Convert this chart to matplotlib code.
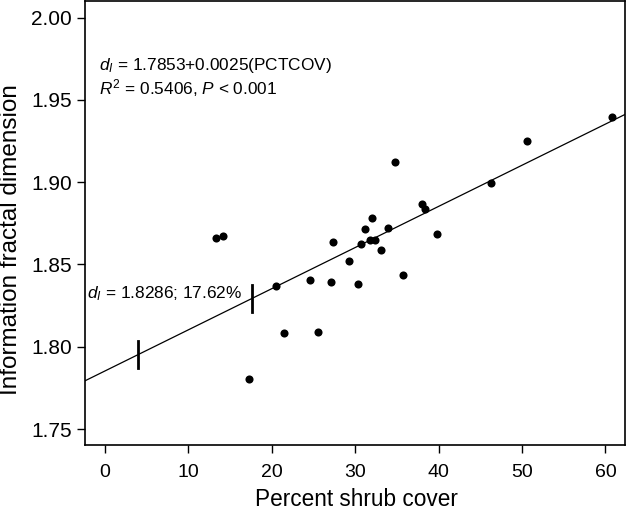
import matplotlib.pyplot as plt
import numpy as np

plt.rcParams['font.family'] = ['Liberation Sans', 'DejaVu Sans']
plt.rcParams['mathtext.fontset'] = 'custom'
plt.rcParams['mathtext.rm'] = 'Liberation Sans'
plt.rcParams['mathtext.it'] = 'Liberation Sans:italic'

# percent shrub cover vs information fractal dimension
shrub = [13.3, 14.1, 17.3, 20.5, 21.5, 24.6, 25.5, 27.1, 27.3, 29.2, 30.3, 30.7, 31.2,
         31.8, 32.0, 32.4, 33.1, 33.9, 34.8, 35.7, 38.0, 38.4, 39.8, 46.3, 50.6, 60.8]
dim = [1.8659, 1.8671, 1.7806, 1.8371, 1.8085, 1.8408, 1.8091, 1.8394, 1.8636, 1.8521,
       1.8380, 1.8627, 1.8718, 1.8647, 1.8784, 1.8651, 1.8586, 1.8719, 1.9125, 1.8433,
       1.8869, 1.8839, 1.8687, 1.8996, 1.9249, 1.9398]

intercept = 1.7853
slope = 0.0025
marks_x = [4.0, 17.62]

xlim = (-2.4, 62.35)
ylim = (1.7403, 2.0101)

fig = plt.figure(figsize=(6.26, 5.12), dpi=100)
ax = fig.add_axes([0.1358, 0.1309, 0.8626, 0.8671])

ax.scatter(shrub, dim, s=34, color='black', zorder=3, linewidths=0)

xl = np.array(xlim)
ax.plot(xl, intercept + slope * xl, color='black', lw=0.9)

# vertical ticks on the fitted line
for mx in marks_x:
    my = intercept + slope * mx
    ax.plot([mx, mx], [my - 0.008, my + 0.008], color='black', lw=2)

ax.text(-0.7, 1.9712, r'$d_I$ = 1.7853+0.0025(PCTCOV)', fontsize=12.4, va='center')
ax.text(-0.7, 1.9570, r'$R^2$ = 0.5406, $P$ < 0.001', fontsize=12.4, va='center')
ax.text(-2.16, 1.8325, r'$d_I$ = 1.8286; 17.62%', fontsize=12.4, va='center')

ax.set_xlim(xlim)
ax.set_ylim(ylim)
ax.set_xticks([0, 10, 20, 30, 40, 50, 60])
ax.set_yticks([1.75, 1.80, 1.85, 1.90, 1.95, 2.00])
ax.set_yticklabels(['1.75', '1.80', '1.85', '1.90', '1.95', '2.00'])
ax.tick_params(axis='x', direction='out', length=5.5, width=1, labelsize=14, pad=8)
ax.tick_params(axis='y', direction='out', length=5.5, width=1, labelsize=15, pad=4)
for s in ax.spines.values():
    s.set_linewidth(1.2)

fig.text(356 / 626, 1 - 506 / 512, 'Percent shrub cover', fontsize=16.3,
         ha='center', va='baseline')
fig.text(11 / 626, 1 - 240 / 512, 'Information fractal dimension', fontsize=17.5,
         ha='center', va='center', rotation=90)

fig.savefig('out.png', dpi=100)
